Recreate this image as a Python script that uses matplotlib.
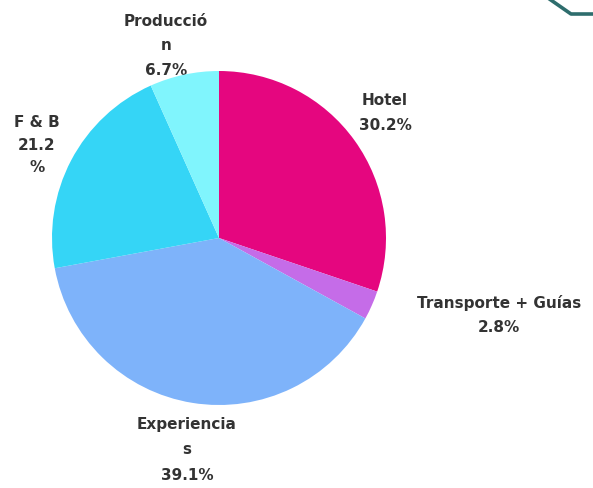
import matplotlib.pyplot as plt

# budget split
categories = ["Hotel", "Transporte + Guías", "Experiencias", "F & B", "Producción"]
shares = [30.2, 2.8, 39.1, 21.2, 6.7]
colors = ["#E5067F", "#C56CE8", "#7EB3FA", "#35D5F6", "#80F5FD"]

# label text as wrapped on the slide
label_texts = [
    "Hotel\n30.2%",
    "Transporte + Guías\n2.8%",
    "Experiencia\ns\n39.1%",
    "F & B\n21.2\n%",
    "Producció\nn\n6.7%",
]
label_pos = [(385, 375), (499, 173), (187, 38), (37, 343), (166, 442)]
label_spacing = [1.84, 1.76, 1.91, 1.62, 1.76]

W, H = 593, 488
fig = plt.figure(figsize=(W / 100, H / 100), dpi=100)
ax = fig.add_axes([0, 0, 1, 1])

wedges, _ = ax.pie(shares, colors=colors, startangle=90, counterclock=False,
                   center=(219, 250), radius=167, frame=True,
                   wedgeprops=dict(linewidth=0, zorder=2))
ax.set_xlim(0, W)
ax.set_ylim(0, H)
ax.set_aspect("equal")
ax.axis("off")

for txt, (x, y), ls in zip(label_texts, label_pos, label_spacing):
    ax.text(x, y, txt, ha="center", va="center", fontsize=11,
            fontweight="bold", color="#333333", linespacing=ls, zorder=1)

# decorative corner line
ax.plot([548, 571, 593], [490, 474, 474], color="#2E6D6D", lw=2.6,
        solid_joinstyle="round", clip_on=False)

fig.savefig("out.png", dpi=100, facecolor="white")
